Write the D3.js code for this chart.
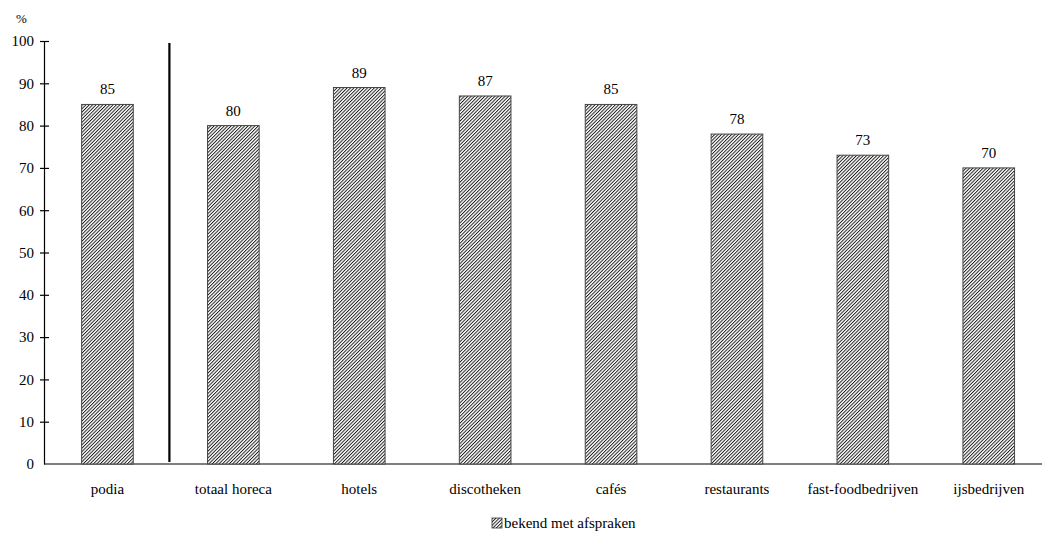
<!DOCTYPE html>
<html><head><meta charset="utf-8">
<script src="https://cdn.jsdelivr.net/npm/d3@7"></script>
<style>body{margin:0;background:#fff}svg{display:block}</style>
</head><body>
<svg id="c" width="1042" height="533" font-family="Liberation Serif"></svg>
<script>
const categories = ["podia","totaal horeca","hotels","discotheken","cafés","restaurants","fast-foodbedrijven","ijsbedrijven"];
const values = [85,80,89,87,85,78,73,70];
const yTicks = [0,10,20,30,40,50,60,70,80,90,100];
const seriesName = "bekend met afspraken";
const unitLabel = "%";

const FONT = "Liberation Serif";
const svg = d3.select("#c");
const defs = svg.append("defs");
const pat = defs.append("pattern").attr("id","hatch").attr("patternUnits","userSpaceOnUse")
  .attr("width",2.4).attr("height",2.4).attr("patternTransform","rotate(45)");
pat.append("rect").attr("width",2.4).attr("height",2.4).attr("fill","#fff");
pat.append("rect").attr("x",0).attr("y",0).attr("width",0.95).attr("height",2.4).attr("fill","#1a1a1a");

const x = d3.scaleBand().domain(categories).range([44.5,1051.7]).paddingInner(0.59).paddingOuter(0.295);
const y = d3.scaleLinear().domain([0,100]).range([464,41]);

// y axis
const yAxis = d3.axisLeft(y).tickValues(yTicks).tickSize(0).tickPadding(10);
const gy = svg.append("g").attr("transform","translate(44,0)").call(yAxis);
gy.attr("font-family",FONT).attr("font-size",15);
gy.select(".domain").attr("stroke","#000").attr("stroke-width",1.2);
gy.selectAll(".tick text").attr("fill","#000");
gy.selectAll(".tick").append("line").attr("x1",-4).attr("x2",5).attr("stroke","#000").attr("stroke-width",1.2);
gy.selectAll(".tick").filter(d=>d===0).selectAll("line").remove();

// x axis line
svg.append("line").attr("x1",44).attr("x2",1042).attr("y1",y(0)).attr("y2",y(0)).attr("stroke","#000").attr("stroke-width",1.2);

// bars
svg.selectAll("rect.bar").data(values).enter().append("rect").attr("class","bar")
  .attr("x",(d,i)=>x(categories[i])).attr("width",x.bandwidth())
  .attr("y",d=>y(d)).attr("height",d=>y(0)-y(d))
  .attr("fill","url(#hatch)").attr("stroke","#444").attr("stroke-width",1);

// value labels
svg.selectAll("text.val").data(values).enter().append("text").attr("class","val")
  .attr("x",(d,i)=>x(categories[i])+x.bandwidth()/2).attr("y",d=>y(d)-10)
  .attr("text-anchor","middle").attr("font-size",15).attr("font-family",FONT).text(d=>d);

// category labels
svg.selectAll("text.cat").data(categories).enter().append("text").attr("class","cat")
  .attr("x",d=>x(d)+x.bandwidth()/2).attr("y",494)
  .attr("text-anchor","middle").attr("font-size",15).attr("font-family",FONT).text(d=>d);

// separator
const sepX = (x(categories[0])+x.bandwidth()+x(categories[1]))/2 - 1;
svg.append("line").attr("x1",sepX).attr("x2",sepX).attr("y1",43).attr("y2",462).attr("stroke","#000").attr("stroke-width",2.2);

// unit label
svg.append("text").attr("x",16).attr("y",23).attr("font-size",13).attr("font-family",FONT).text(unitLabel);

// legend
const lg = svg.append("g").attr("transform","translate(492,518)");
lg.append("rect").attr("width",10).attr("height",10).attr("fill","url(#hatch)").attr("stroke","#333").attr("stroke-width",0.8);
lg.append("text").attr("x",12).attr("y",10).attr("font-size",15).attr("font-family",FONT).text(seriesName);
</script>
</body></html>
